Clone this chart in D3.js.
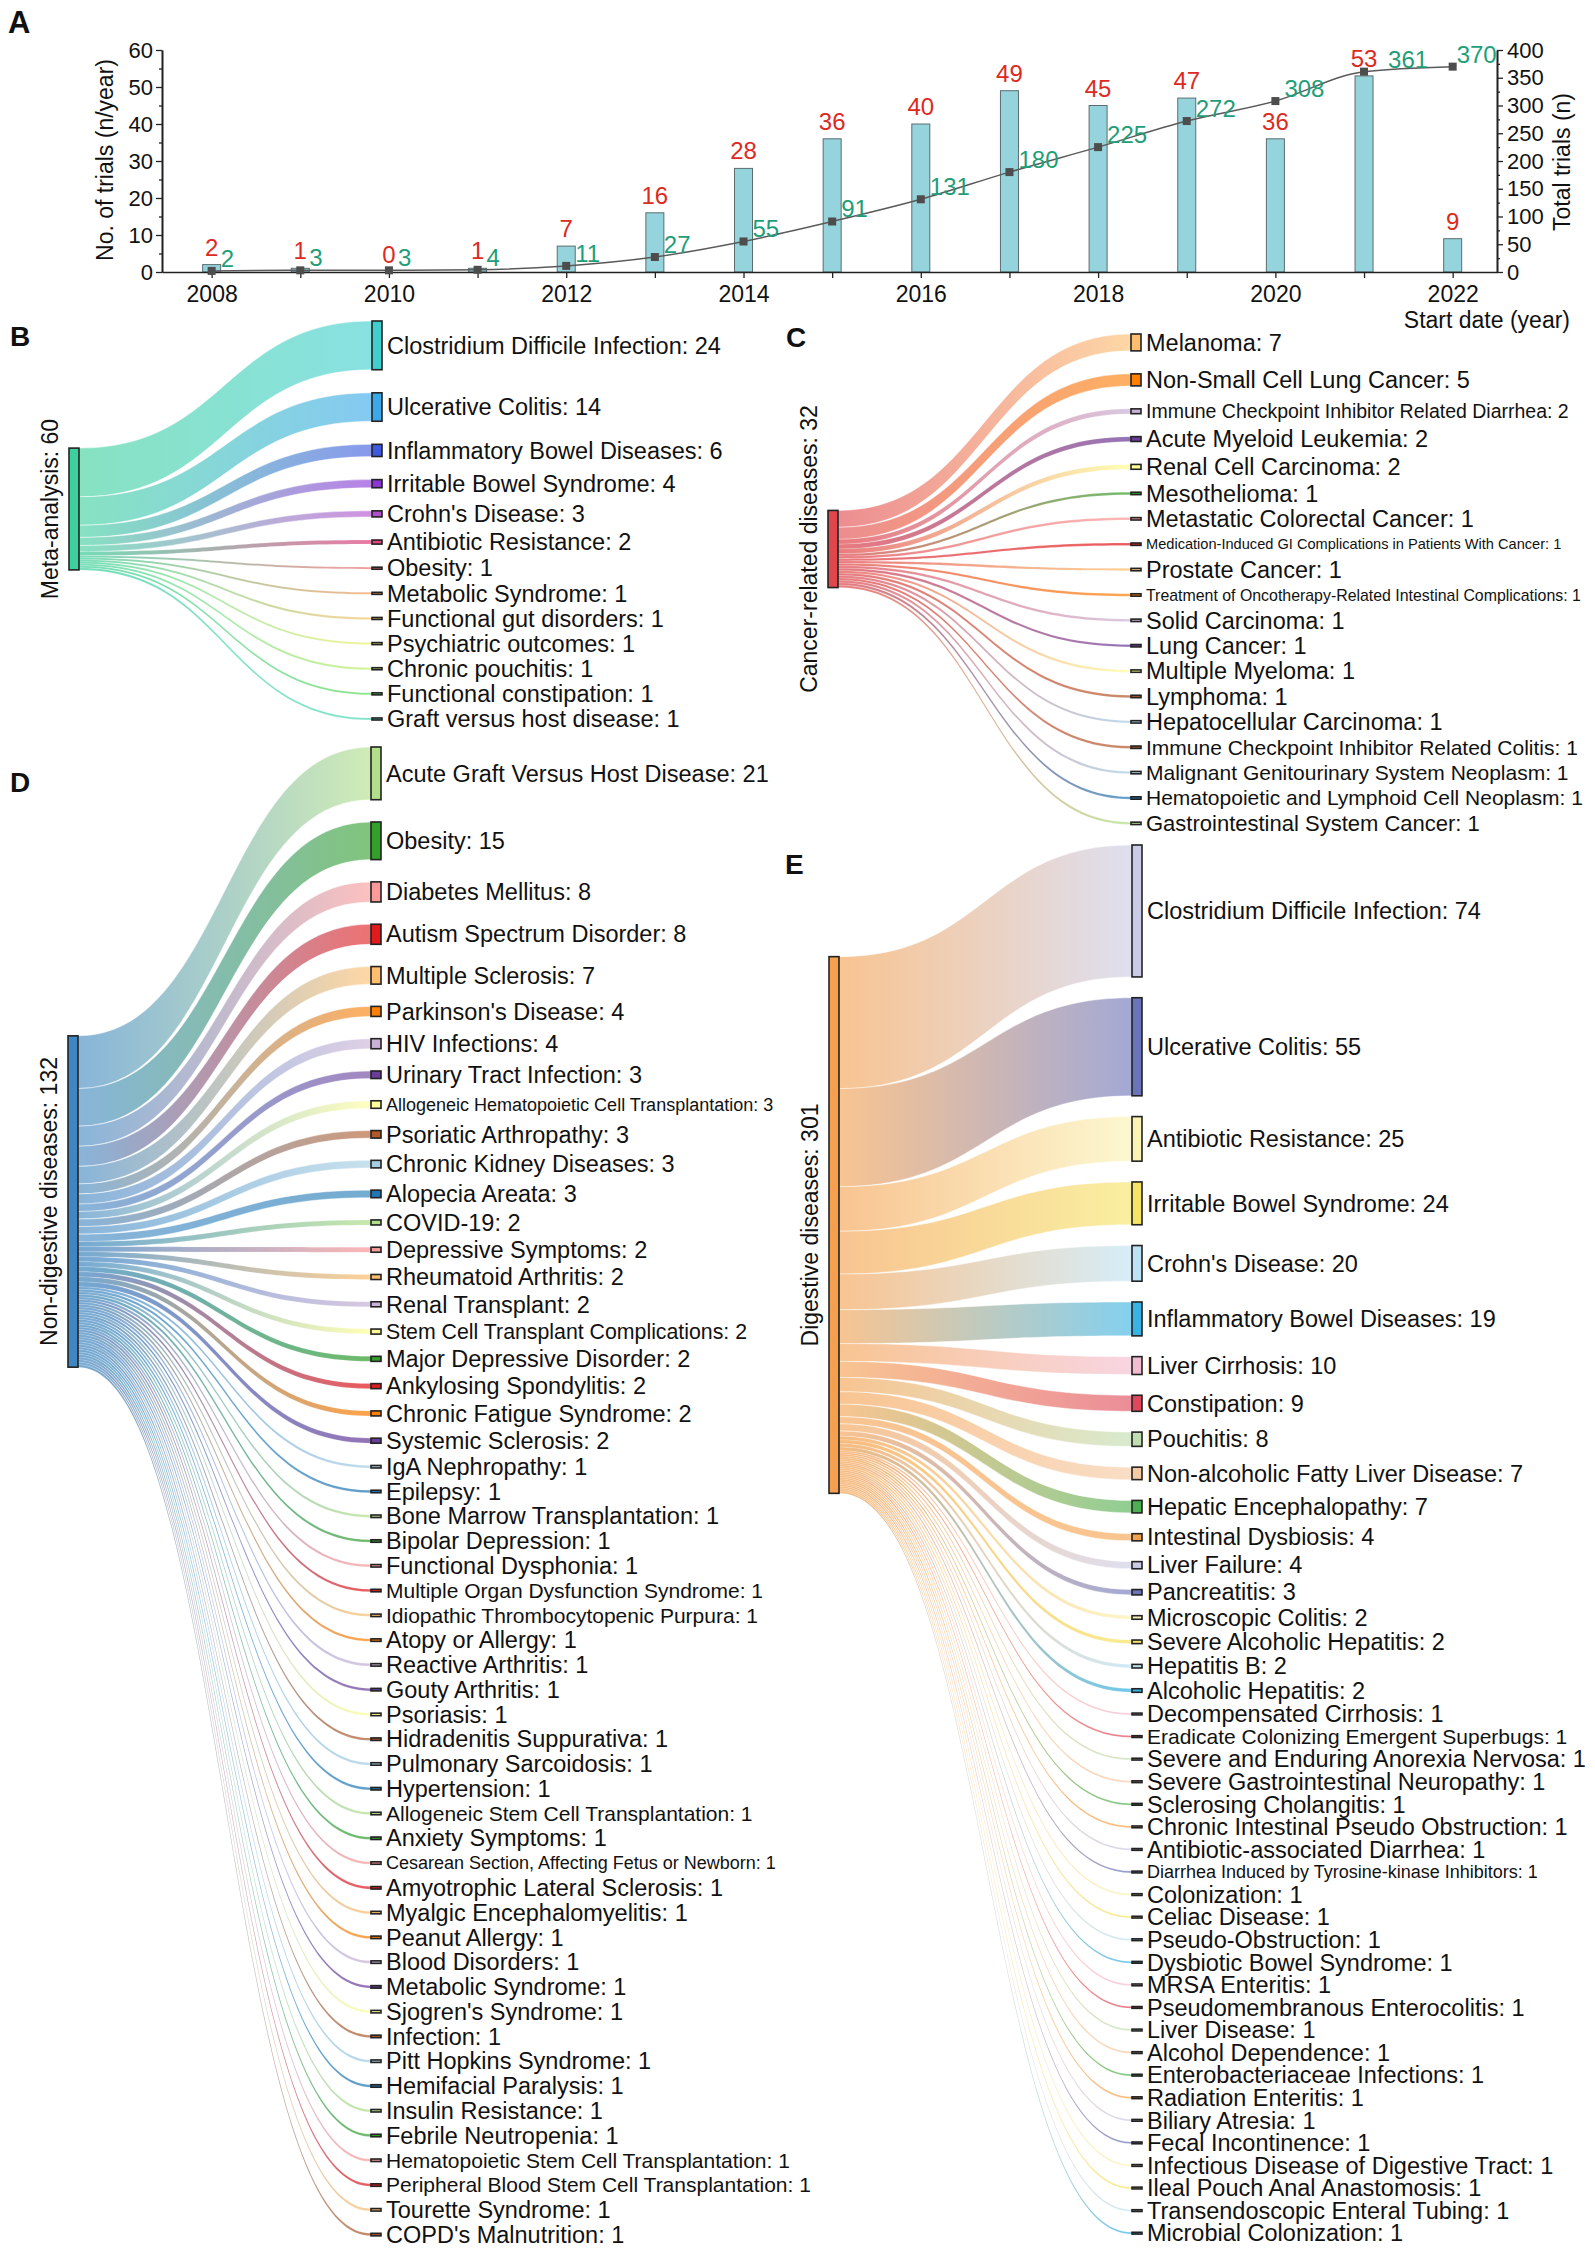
<!DOCTYPE html>
<html><head><meta charset="utf-8">
<script src="https://cdn.jsdelivr.net/npm/d3@7"></script>
<style>
html,body{margin:0;padding:0;background:#fff;}
svg{display:block;}
</style></head><body>
<svg id="chart" width="1595" height="2250"></svg>
<script>
// ================= DATA =================
// Panel A
const years = [2008,2009,2010,2011,2012,2013,2014,2015,2016,2017,2018,2019,2020,2021,2022];
const trialsPerYear = [2,1,0,1,7,16,28,36,40,49,45,47,36,53,9];
const totalTrials = [2,3,3,4,11,27,55,91,131,180,225,272,308,361,370];
const leftTicks = [0,10,20,30,40,50,60];
const rightTicks = [0,50,100,150,200,250,300,350,400];
const yearTickLabels = [2008,2010,2012,2014,2016,2018,2020,2022];

// Panel B
const metaSource = "Meta-analysis";
const metaNames = ["Clostridium Difficile Infection","Ulcerative Colitis","Inflammatory Bowel Diseases","Irritable Bowel Syndrome","Crohn's Disease","Antibiotic Resistance","Obesity","Metabolic Syndrome","Functional gut disorders","Psychiatric outcomes","Chronic pouchitis","Functional constipation","Graft versus host disease"];
const metaValues = [24,14,6,4,3,2,1,1,1,1,1,1,1];

// Panel C
const cancerSource = "Cancer-related diseases";
const cancerNames = ["Melanoma","Non-Small Cell Lung Cancer","Immune Checkpoint Inhibitor Related Diarrhea","Acute Myeloid Leukemia","Renal Cell Carcinoma","Mesothelioma","Metastatic Colorectal Cancer","Medication-Induced GI Complications in Patients With Cancer","Prostate Cancer","Treatment of Oncotherapy-Related Intestinal Complications","Solid Carcinoma","Lung Cancer","Multiple Myeloma","Lymphoma","Hepatocellular Carcinoma","Immune Checkpoint Inhibitor Related Colitis","Malignant Genitourinary System Neoplasm","Hematopoietic and Lymphoid Cell Neoplasm","Gastrointestinal System Cancer"];
const cancerValues = [7,5,2,2,2,1,1,1,1,1,1,1,1,1,1,1,1,1,1];

// Panel D
const nonDigSource = "Non-digestive diseases";
const nonDigNames = ["Acute Graft Versus Host Disease","Obesity","Diabetes Mellitus","Autism Spectrum Disorder","Multiple Sclerosis","Parkinson's Disease","HIV Infections","Urinary Tract Infection","Allogeneic Hematopoietic Cell Transplantation","Psoriatic Arthropathy","Chronic Kidney Diseases","Alopecia Areata","COVID-19","Depressive Symptoms","Rheumatoid Arthritis","Renal Transplant","Stem Cell Transplant Complications","Major Depressive Disorder","Ankylosing Spondylitis","Chronic Fatigue Syndrome","Systemic Sclerosis","IgA Nephropathy","Epilepsy","Bone Marrow Transplantation","Bipolar Depression","Functional Dysphonia","Multiple Organ Dysfunction Syndrome","Idiopathic Thrombocytopenic Purpura","Atopy or Allergy","Reactive Arthritis","Gouty Arthritis","Psoriasis","Hidradenitis Suppurativa","Pulmonary Sarcoidosis","Hypertension","Allogeneic Stem Cell Transplantation","Anxiety Symptoms","Cesarean Section, Affecting Fetus or Newborn","Amyotrophic Lateral Sclerosis","Myalgic Encephalomyelitis","Peanut Allergy","Blood Disorders","Metabolic Syndrome","Sjogren's Syndrome","Infection","Pitt Hopkins Syndrome","Hemifacial Paralysis","Insulin Resistance","Febrile Neutropenia","Hematopoietic Stem Cell Transplantation","Peripheral Blood Stem Cell Transplantation","Tourette Syndrome","COPD's Malnutrition"];
const nonDigValues = [21,15,8,8,7,4,4,3,3,3,3,3,2,2,2,2,2,2,2,2,2,1,1,1,1,1,1,1,1,1,1,1,1,1,1,1,1,1,1,1,1,1,1,1,1,1,1,1,1,1,1,1,1];

// Panel E
const digSource = "Digestive diseases";
const digNames = ["Clostridium Difficile Infection","Ulcerative Colitis","Antibiotic Resistance","Irritable Bowel Syndrome","Crohn's Disease","Inflammatory Bowel Diseases","Liver Cirrhosis","Constipation","Pouchitis","Non-alcoholic Fatty Liver Disease","Hepatic Encephalopathy","Intestinal Dysbiosis","Liver Failure","Pancreatitis","Microscopic Colitis","Severe Alcoholic Hepatitis","Hepatitis B","Alcoholic Hepatitis","Decompensated Cirrhosis","Eradicate Colonizing Emergent Superbugs","Severe and Enduring Anorexia Nervosa","Severe Gastrointestinal Neuropathy","Sclerosing Cholangitis","Chronic Intestinal Pseudo Obstruction","Antibiotic-associated Diarrhea","Diarrhea Induced by Tyrosine-kinase Inhibitors","Colonization","Celiac Disease","Pseudo-Obstruction","Dysbiotic Bowel Syndrome","MRSA Enteritis","Pseudomembranous Enterocolitis","Liver Disease","Alcohol Dependence","Enterobacteriaceae Infections","Radiation Enteritis","Biliary Atresia","Fecal Incontinence","Infectious Disease of Digestive Tract","Ileal Pouch Anal Anastomosis","Transendoscopic Enteral Tubing","Microbial Colonization"];
const digValues = [74,55,25,24,20,19,10,9,8,7,7,4,4,3,2,2,2,2,1,1,1,1,1,1,1,1,1,1,1,1,1,1,1,1,1,1,1,1,1,1,1,1];

// ================= STYLES =================
const FONT = '"Liberation Sans", Arial, Helvetica, sans-serif';
const paired = d3.schemePaired;
const metaColors = ["#3fcfcf","#3aa8ea","#3f5ae0","#8c34d8","#b44ed0","#e3447f","#ef6f6f","#f29a5e","#f6c46a","#eef06a","#c2ee6c","#62d862","#4fd8b8"];
const cancerColorIdx = [6,7,8,9,10,3,4,5,6,7,8,9,10,11,0,11,0,1,2];
const nonDigColorIdx = [2,3,4,5,6,7,8,9,10,11,0,1,2,4,6,8,10,3,5,7,9,0,1,2,3,4,5,6,7,8,9,10,11,0,1,2,3,4,5,6,7,8,9,10,11,0,1,2,3,4,5,6,11];
const ePalette = ["#cacbe6","#6a74bb","#fbf3b4","#f6e565","#bde2f4","#37b3e4","#f3bcd0","#e0475a","#c0deb0","#f5c9a2","#4cb050","#f5a04c"];
const digColorIdx = d3.range(digNames.length).map(i => i % 12);

const labelSizeC = {"Immune Checkpoint Inhibitor Related Diarrhea":19.5,"Medication-Induced GI Complications in Patients With Cancer":14.6,"Treatment of Oncotherapy-Related Intestinal Complications":15.9,"Immune Checkpoint Inhibitor Related Colitis":21,"Malignant Genitourinary System Neoplasm":21,"Hematopoietic and Lymphoid Cell Neoplasm":21,"Gastrointestinal System Cancer":22};
const labelSizeD = {"Allogeneic Hematopoietic Cell Transplantation":18,"Stem Cell Transplant Complications":21.3,"Multiple Organ Dysfunction Syndrome":21,"Idiopathic Thrombocytopenic Purpura":21,"Allogeneic Stem Cell Transplantation":21,"Cesarean Section, Affecting Fetus or Newborn":18,"Hematopoietic Stem Cell Transplantation":21,"Peripheral Blood Stem Cell Transplantation":21};
const labelSizeE = {"Eradicate Colonizing Emergent Superbugs":21,"Diarrhea Induced by Tyrosine-kinase Inhibitors":18};

const svg = d3.select("#chart").attr("font-family", FONT);

// ================= PANEL A =================
const gA = svg.append("g");
const x = d3.scaleLinear().domain([2007.44, 2022.5]).range([162, 1497]);
const yL = d3.scaleLinear().domain([0, 60]).range([272, 50]);
const yR = d3.scaleLinear().domain([0, 400]).range([272, 50]);

function styleAxis(g, fs) {
  g.attr("font-family", FONT).attr("font-size", fs);
  g.selectAll(".domain").attr("stroke", "#222").attr("stroke-width", 1.6);
  g.selectAll(".tick line").attr("stroke", "#222").attr("stroke-width", 1.3);
  g.selectAll("text").attr("fill", "#111");
}

gA.selectAll("rect.bar").data(years).join("rect").attr("class","bar")
  .attr("x", (d) => x(d) - 9).attr("width", 18)
  .attr("y", (d,i) => yL(trialsPerYear[i]))
  .attr("height", (d,i) => yL(0) - yL(trialsPerYear[i]))
  .attr("fill", "#96d4dd").attr("stroke", "#5b6d70").attr("stroke-width", 1);

const axLeftMinor = gA.append("g").attr("transform","translate(162,0)")
  .call(d3.axisLeft(yL).tickValues(d3.range(5,60,10)).tickSize(3).tickSizeOuter(0).tickFormat(""));
styleAxis(axLeftMinor, 22);
const axLeft = gA.append("g").attr("transform","translate(162,0)")
  .call(d3.axisLeft(yL).tickValues(leftTicks).tickSize(6).tickSizeOuter(0).tickPadding(3));
styleAxis(axLeft, 22);
const axRightMinor = gA.append("g").attr("transform","translate(1497,0)")
  .call(d3.axisRight(yR).tickValues(d3.range(25,400,50)).tickSize(3).tickSizeOuter(0).tickFormat(""));
styleAxis(axRightMinor, 22);
const axRight = gA.append("g").attr("transform","translate(1497,0)")
  .call(d3.axisRight(yR).tickValues(rightTicks).tickSize(6).tickSizeOuter(0).tickPadding(4));
styleAxis(axRight, 22);
const axBottom = gA.append("g").attr("transform","translate(0,272)")
  .call(d3.axisBottom(x).tickValues(years).tickSize(6).tickSizeOuter(0).tickPadding(8)
    .tickFormat(d => yearTickLabels.includes(d) ? String(d) : ""));
styleAxis(axBottom, 23);

const line = d3.line().x((d,i) => x(years[i])).y(d => yR(d)).curve(d3.curveMonotoneX);
gA.append("path").datum(totalTrials).attr("d", line)
  .attr("fill","none").attr("stroke","#5a5a5a").attr("stroke-width",1.5);
gA.selectAll("rect.mk").data(totalTrials).join("rect").attr("class","mk")
  .attr("x", (d,i) => x(years[i]) - 4).attr("y", d => yR(d) - 4)
  .attr("width", 8).attr("height", 8).attr("fill", "#4d4d4d");

gA.selectAll("text.red").data(trialsPerYear).join("text").attr("class","red")
  .attr("x", (d,i) => x(years[i])).attr("y", d => yL(d) - 9)
  .attr("text-anchor","middle").attr("font-size",24).attr("fill","#dc2a1f")
  .text(d => d);
const greenDx = {2021: 24, 2022: 4};
gA.selectAll("text.green").data(totalTrials).join("text").attr("class","green")
  .attr("x", (d,i) => x(years[i]) + (greenDx[years[i]] ?? 9)).attr("y", d => yR(d) - 4)
  .attr("font-size",24).attr("fill","#1e9e78")
  .text(d => d);

gA.append("text").attr("transform","translate(113,160) rotate(-90)")
  .attr("text-anchor","middle").attr("font-size",23).attr("fill","#111").text("No. of trials (n/year)");
gA.append("text").attr("transform","translate(1570,162) rotate(-90)")
  .attr("text-anchor","middle").attr("font-size",23).attr("fill","#111").text("Total trials (n)");
gA.append("text").attr("x",1570).attr("y",328).attr("text-anchor","end")
  .attr("font-size",23).attr("fill","#111").text("Start date (year)");

const letters = [["A",8,33,31],["B",10,346,28],["C",786,347,28],["D",10,792,28],["E",785,874,28]];
svg.selectAll("text.letter").data(letters).join("text").attr("class","letter")
  .attr("x", d => d[1]).attr("y", d => d[2]).attr("font-size", d => d[3]).attr("font-weight","bold")
  .attr("fill","#111").text(d => d[0]);

// ================= SANKEY =================
const defs = svg.append("defs");
let gradId = 0;
function ribbon(x0, x1, s0, s1, t0, t1) {
  const xm = (x0 + x1) / 2;
  const p = d3.path();
  p.moveTo(x0, s0);
  p.bezierCurveTo(xm, s0, xm, t0, x1, t0);
  p.lineTo(x1, t1);
  p.bezierCurveTo(xm, t1, xm, s1, x0, s1);
  p.closePath();
  return p.toString();
}
function drawSankey(cfg) {
  const g = svg.append("g");
  const {names, values, colors, srcName, srcColor, srcX, tgtX, k, pad, startY, srcCenter, sizes} = cfg;
  const nodeW = 10;
  const total = d3.sum(values);
  const h = d3.scaleLinear().domain([0, 1]).range([0, k]);
  const cum = [0];
  values.forEach((v,i) => cum.push(cum[i] + v));
  const srcTop = srcCenter - h(total) / 2;
  const nodes = names.map((n,i) => ({
    name: n, value: values[i], color: colors[i],
    top: startY + h(cum[i]) + i * pad,
    s0: srcTop + h(cum[i]), s1: srcTop + h(cum[i + 1])
  }));
  nodes.forEach(d => { d.t0 = d.top; d.t1 = d.top + h(d.value); d.ty = (d.t0 + d.t1) / 2; });
  nodes.forEach(d => {
    const id = "grad" + (gradId++);
    const gr = defs.append("linearGradient").attr("id", id).attr("gradientUnits","userSpaceOnUse")
      .attr("x1", srcX + nodeW).attr("x2", tgtX).attr("y1", 0).attr("y2", 0);
    gr.append("stop").attr("offset","0%").attr("stop-color", srcColor);
    gr.append("stop").attr("offset","100%").attr("stop-color", d.color);
    d.grad = id;
  });
  g.selectAll("path.link").data(nodes).join("path").attr("class","link")
    .attr("d", d => ribbon(srcX + nodeW, tgtX, d.s0, d.s1, d.t0, d.t1))
    .attr("fill", d => `url(#${d.grad})`)
    .attr("fill-opacity", d => d.value > 2 ? 0.62 : 0.72)
    .attr("stroke", "#fff").attr("stroke-width", d => d.value > 2 ? 0.45 : 0.15);
  g.append("rect").attr("x", srcX).attr("y", srcTop).attr("width", nodeW).attr("height", h(total))
    .attr("fill", srcColor).attr("stroke","#222").attr("stroke-width",1.6);
  g.append("text").attr("transform", `translate(${srcX - 11},${srcCenter}) rotate(-90)`)
    .attr("text-anchor","middle").attr("font-size",23).attr("fill","#111")
    .text(`${srcName}: ${total}`);
  g.selectAll("rect.node").data(nodes).join("rect").attr("class","node")
    .attr("x", tgtX).attr("y", d => d.top).attr("width", nodeW).attr("height", d => h(d.value))
    .attr("fill", d => d.color).attr("stroke","#222").attr("stroke-width",1.6);
  g.selectAll("text.lab").data(nodes).join("text").attr("class","lab")
    .attr("x", tgtX + nodeW + 5).attr("y", d => d.ty).attr("dy","0.35em")
    .attr("font-size", d => (sizes && sizes[d.name]) || 23.5).attr("fill","#111")
    .text(d => `${d.name}: ${d.value}`);
}

drawSankey({names: metaNames, values: metaValues, colors: metaColors, srcName: metaSource, srcColor: "#3dd09c",
  srcX: 69, tgtX: 372, k: 2.03, pad: 23.1, startY: 321, srcCenter: 509, sizes: {}});
drawSankey({names: cancerNames, values: cancerValues, colors: cancerColorIdx.map(i => paired[i]), srcName: cancerSource, srcColor: "#e0474c",
  srcX: 828, tgtX: 1131, k: 2.41, pad: 22.97, startY: 334, srcCenter: 549, sizes: labelSizeC});
drawSankey({names: nonDigNames, values: nonDigValues, colors: nonDigColorIdx.map(i => paired[i]), srcName: nonDigSource, srcColor: "#3f87c2",
  srcX: 68, tgtX: 371, k: 2.51, pad: 22.26, startY: 747, srcCenter: 1201.5, sizes: labelSizeD});
drawSankey({names: digNames, values: digValues, colors: digColorIdx.map(i => ePalette[i]), srcName: digSource, srcColor: "#f4a04e",
  srcX: 829, tgtX: 1132, k: 1.783, pad: 20.79, startY: 845, srcCenter: 1225, sizes: labelSizeE});
</script>
</body></html>
